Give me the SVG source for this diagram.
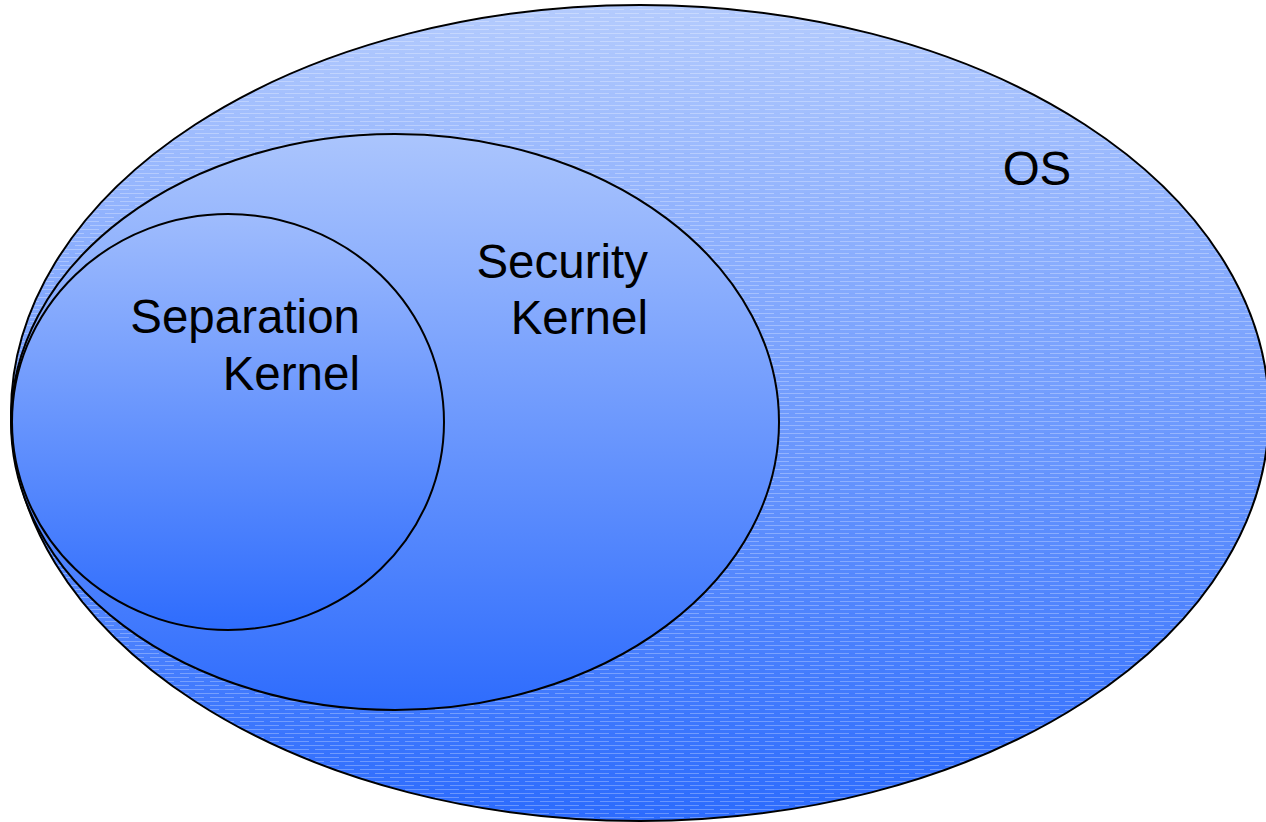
<svg xmlns="http://www.w3.org/2000/svg" width="1266" height="822" viewBox="0 0 1266 822">
  <defs>
    <linearGradient id="gOS" x1="0" y1="0" x2="0" y2="1">
      <stop offset="0" stop-color="#b4cbfd"/>
      <stop offset="1" stop-color="#2c6bfd"/>
    </linearGradient>
    <linearGradient id="gSec" x1="0" y1="0" x2="0" y2="1">
      <stop offset="0" stop-color="#abc5fd"/>
      <stop offset="1" stop-color="#2e6cfd"/>
    </linearGradient>
    <linearGradient id="gSep" x1="0" y1="0" x2="0" y2="1">
      <stop offset="0" stop-color="#9fbcfd"/>
      <stop offset="1" stop-color="#2e6cfd"/>
    </linearGradient>
    <pattern id="dash" x="0" y="0" width="30" height="8" patternUnits="userSpaceOnUse">
      <line x1="0" y1="1.5" x2="24" y2="1.5" stroke="#ffffff" stroke-opacity="0.28" stroke-width="1"/>
      <line x1="15" y1="5.5" x2="30" y2="5.5" stroke="#ffffff" stroke-opacity="0.28" stroke-width="1"/>
      <line x1="0" y1="5.5" x2="9" y2="5.5" stroke="#ffffff" stroke-opacity="0.28" stroke-width="1"/>
    </pattern>
    <style>
      .shape { stroke: #000; stroke-width: 2; }
      .lbl { font-family: "Liberation Sans", Arial, sans-serif; font-size: 47.5px; fill: #000; }
    </style>
  </defs>
  <rect width="1266" height="822" fill="#ffffff"/>
  <g id="os">
    <ellipse cx="640" cy="413" rx="629" ry="408" fill="url(#gOS)"/>
    <ellipse cx="640" cy="413" rx="629" ry="408" fill="url(#dash)" class="shape"/>
    <text class="lbl" x="1037" y="185" text-anchor="middle">OS</text>
  </g>
  <g id="security-kernel">
    <ellipse cx="395" cy="422" rx="384" ry="288" fill="url(#gSec)" class="shape"/>
    <text class="lbl" x="648" y="278" text-anchor="end">Security</text>
    <text class="lbl" x="648" y="334" text-anchor="end">Kernel</text>
  </g>
  <g id="separation-kernel">
    <ellipse cx="228" cy="422" rx="216" ry="208" fill="url(#gSep)" class="shape"/>
    <text class="lbl" x="360" y="333" text-anchor="end">Separation</text>
    <text class="lbl" x="360" y="390" text-anchor="end">Kernel</text>
  </g>
  <g id="connectors"/>
</svg>
